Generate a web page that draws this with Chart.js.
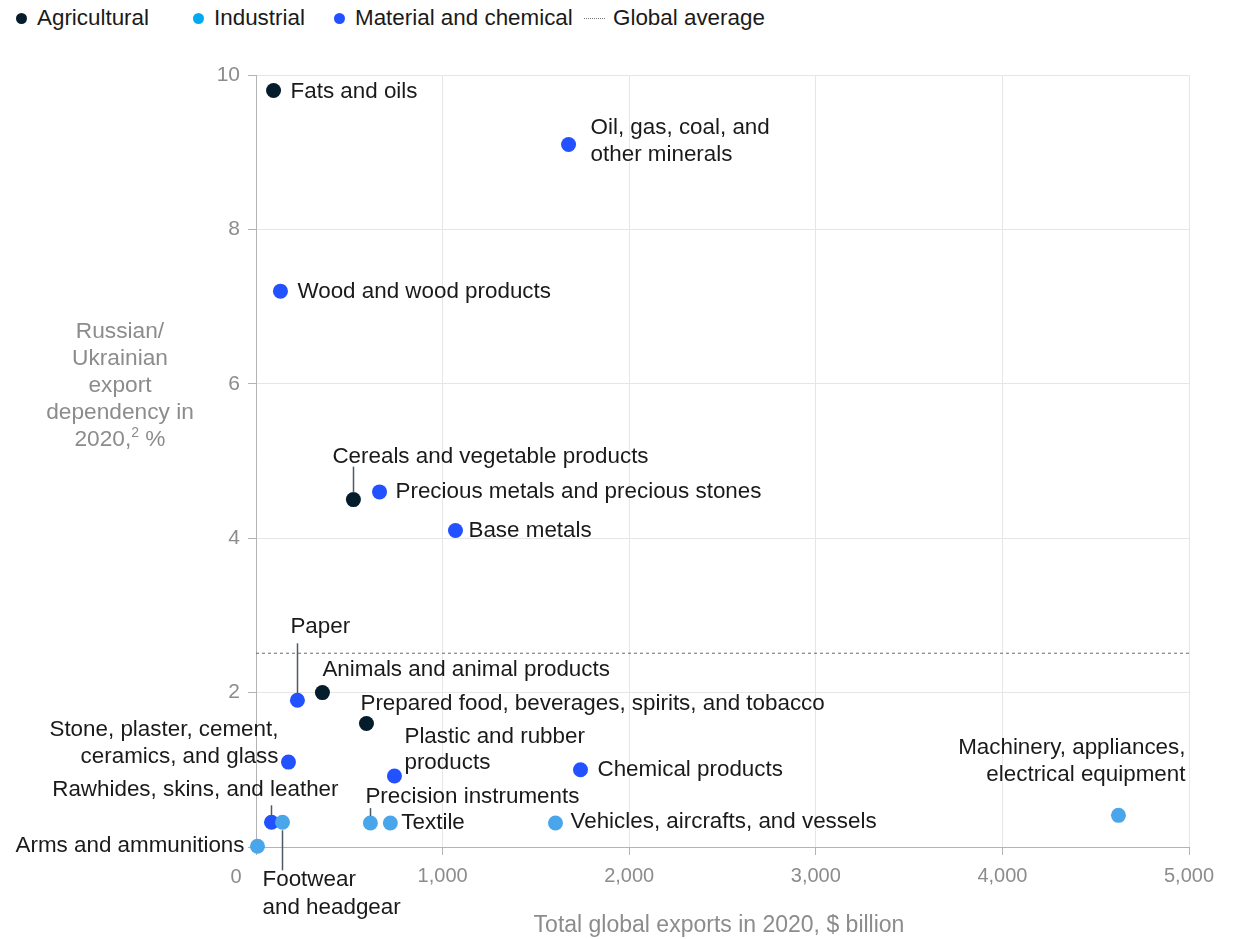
<!DOCTYPE html>
<html>
<head>
<meta charset="utf-8">
<script src="https://cdn.jsdelivr.net/npm/chart.js@4"></script>
<style>
  html, body { margin: 0; padding: 0; background: #fff; }
  body { width: 1238px; height: 939px; position: relative; overflow: hidden; font-family: "Liberation Sans", Arial, sans-serif; }
  #legend { position: absolute; left: 0; top: 0; width: 1238px; height: 36px; font-size: 22.4px; color: #1a1a1a; }
  #legend .item { position: absolute; top: 5px; display: flex; align-items: center; white-space: nowrap; }
  #legend .dot { width: 11px; height: 11px; border-radius: 50%; margin-right: 10px; }
  #legend .dash { width: 21px; border-top: 1px dotted #777; margin-right: 8px; }
  #wrap { position: absolute; left: 0; top: 0; width: 1238px; height: 939px; }
</style>
</head>
<body>
<div id="legend">
  <div class="item" style="left:16px"><span class="dot" style="background:#051c2c"></span>Agricultural</div>
  <div class="item" style="left:193px"><span class="dot" style="background:#00a9f4"></span>Industrial</div>
  <div class="item" style="left:334px"><span class="dot" style="background:#2251ff"></span>Material and chemical</div>
  <div class="item" style="left:584px"><span class="dash"></span>Global average</div>
</div>
<div id="wrap"><canvas id="chart" width="1238" height="939"></canvas></div>
<script>
// Produits exportés : valeur mondiale 2020 ($ mrd) et dépendance Russie/Ukraine (%)
const categories = [
  'Fats and oils', 'Oil, gas, coal, and other minerals', 'Wood and wood products',
  'Cereals and vegetable products', 'Precious metals and precious stones', 'Base metals',
  'Paper', 'Animals and animal products', 'Prepared food, beverages, spirits, and tobacco',
  'Stone, plaster, cement, ceramics, and glass', 'Plastic and rubber products', 'Chemical products',
  'Machinery, appliances, electrical equipment', 'Rawhides, skins, and leather', 'Footwear and headgear',
  'Precision instruments', 'Textile', 'Vehicles, aircrafts, and vessels', 'Arms and ammunitions'
];
const globalExports = [94, 1675, 131, 522, 662, 1069, 222, 356, 592, 174, 742, 1739, 4622, 83, 142, 613, 720, 1605, 8];
const dependency = [9.8, 9.1, 7.2, 4.5, 4.6, 4.1, 1.9, 2.0, 1.6, 1.1, 0.92, 1.0, 0.41, 0.32, 0.32, 0.31, 0.31, 0.31, 0.01];
const sectors = [
  'Agricultural', 'Material and chemical', 'Material and chemical',
  'Agricultural', 'Material and chemical', 'Material and chemical',
  'Material and chemical', 'Agricultural', 'Agricultural',
  'Material and chemical', 'Material and chemical', 'Material and chemical',
  'Industrial', 'Material and chemical', 'Industrial',
  'Industrial', 'Industrial', 'Industrial', 'Industrial'
];
const globalAverage = 2.51;
const xTicks = [0, 1000, 2000, 3000, 4000, 5000];
const yTicks = [0, 2, 4, 6, 8, 10];

const sectorColors = {
  'Agricultural': '#051c2c',
  'Industrial': '#4aa6ea',
  'Material and chemical': '#2251ff'
};

// Placement des étiquettes (décalage en px depuis le point, texte multi-lignes, trait de rappel)
const labelLayout = {
  'Fats and oils': { dx: 17, dy: 1 },
  'Oil, gas, coal, and other minerals': { dx: 22, dy: -17, lines: ['Oil, gas, coal, and', 'other minerals'] },
  'Wood and wood products': { dx: 17, dy: 1 },
  'Cereals and vegetable products': { dx: -21, dy: -43, leader: [-33, -7] },
  'Precious metals and precious stones': { dx: 16, dy: 0 },
  'Base metals': { dx: 13, dy: 0 },
  'Paper': { dx: -7, dy: -73, leader: [-57, -7] },
  'Animals and animal products': { dx: 0, dy: -23 },
  'Prepared food, beverages, spirits, and tobacco': { dx: -6, dy: -20 },
  'Stone, plaster, cement, ceramics, and glass': { dx: -10, dy: -32, align: 'right', lines: ['Stone, plaster, cement,', 'ceramics, and glass'] },
  'Plastic and rubber products': { dx: 10, dy: -39, gap: 26, lines: ['Plastic and rubber', 'products'] },
  'Chemical products': { dx: 17, dy: 0 },
  'Machinery, appliances, electrical equipment': { dx: 67, dy: -68, align: 'right', lines: ['Machinery, appliances,', 'electrical equipment'] },
  'Rawhides, skins, and leather': { dx: 67, dy: -32, align: 'right', leader: [-17, -7] },
  'Footwear and headgear': { dx: -20, dy: 58, gap: 28, lines: ['Footwear', 'and headgear'], leader: [8, 48] },
  'Precision instruments': { dx: -5, dy: -26, leader: [-15, -7] },
  'Textile': { dx: 11, dy: 0 },
  'Vehicles, aircrafts, and vessels': { dx: 15, dy: -1 },
  'Arms and ammunitions': { dx: -13, dy: 0, align: 'right' }
};

const FONT = '"Liberation Sans", Arial, sans-serif';

// Construire les jeux de données par secteur
function buildDatasets() {
  const sets = [];
  Object.keys(sectorColors).forEach(sector => {
    const pts = [];
    categories.forEach((name, i) => {
      if (sectors[i] === sector) pts.push({ x: globalExports[i], y: dependency[i], name: name });
    });
    sets.push({
      type: 'scatter',
      label: sector,
      data: pts,
      backgroundColor: sectorColors[sector],
      borderWidth: 0,
      pointRadius: 7.5,
      pointHoverRadius: 7.5,
      clip: false,
      order: 1
    });
  });
  sets.push({
    type: 'line',
    label: 'Global average',
    data: [{ x: xTicks[0], y: globalAverage }, { x: xTicks[xTicks.length - 1], y: globalAverage }],
    borderColor: '#6b6b6b',
    borderWidth: 1,
    borderDash: [3, 3],
    pointRadius: 0,
    order: 2
  });
  return sets;
}

// Étiquettes des points, traits de rappel et titres des axes
const annotationsPlugin = {
  id: 'annotations',
  afterDatasetsDraw(chart) {
    const ctx = chart.ctx;
    ctx.save();
    ctx.font = '22.4px ' + FONT;
    ctx.textBaseline = 'middle';
    chart.data.datasets.forEach((ds, di) => {
      if (ds.type !== 'scatter') return;
      const meta = chart.getDatasetMeta(di);
      meta.data.forEach((pt, j) => {
        const name = ds.data[j].name;
        const lay = labelLayout[name];
        if (!lay) return;
        if (lay.leader) {
          ctx.strokeStyle = '#4d5a66';
          ctx.lineWidth = 1.5;
          ctx.beginPath();
          ctx.moveTo(Math.round(pt.x) + 0.5, pt.y + lay.leader[0]);
          ctx.lineTo(Math.round(pt.x) + 0.5, pt.y + lay.leader[1]);
          ctx.stroke();
        }
        const lines = lay.lines || [name];
        const gap = lay.gap || 27;
        ctx.fillStyle = '#1a1a1a';
        ctx.textAlign = lay.align || 'left';
        lines.forEach((t, k) => ctx.fillText(t, pt.x + lay.dx, pt.y + lay.dy + k * gap));
      });
    });

    // titre vertical, posé horizontalement à gauche
    ctx.fillStyle = '#8c8c8c';
    ctx.textAlign = 'center';
    ctx.font = '22.7px ' + FONT;
    const yTitle = ['Russian/', 'Ukrainian', 'export', 'dependency in'];
    yTitle.forEach((t, k) => ctx.fillText(t, 120, 332 + k * 27));
    // dernière ligne avec l'exposant de la note
    const base = '2020,';
    const tail = ' %';
    const wBase = ctx.measureText(base).width;
    const wTail = ctx.measureText(tail).width;
    ctx.font = '14px ' + FONT;
    const wSup = ctx.measureText('2').width;
    let x0 = 120 - (wBase + wSup + wTail) / 2;
    ctx.textAlign = 'left';
    ctx.font = '22.7px ' + FONT;
    ctx.fillText(base, x0, 440);
    ctx.font = '14px ' + FONT;
    ctx.fillText('2', x0 + wBase, 433);
    ctx.font = '22.7px ' + FONT;
    ctx.fillText(tail, x0 + wBase + wSup, 440);

    // origine commune "0"
    ctx.textAlign = 'center';
    ctx.font = '20px ' + FONT;
    ctx.fillText('0', chart.scales.x.left - 20, chart.scales.y.bottom + 30);

    // titre de l'axe horizontal
    ctx.font = '23px ' + FONT;
    ctx.fillText('Total global exports in 2020, $ billion', 719, 926);
    ctx.restore();
  }
};

const ctx = document.getElementById('chart').getContext('2d');
const chart = new Chart(ctx, {
  data: { datasets: buildDatasets() },
  plugins: [annotationsPlugin],
  options: {
    responsive: false,
    animation: false,
    events: [],
    layout: { padding: { top: 75, right: 49, left: 0, bottom: 0 } },
    plugins: {
      legend: { display: false },
      tooltip: { enabled: false }
    },
    scales: {
      x: {
        type: 'linear',
        min: xTicks[0],
        max: xTicks[xTicks.length - 1],
        afterBuildTicks: scale => { scale.ticks = xTicks.map(v => ({ value: v })); },
        afterFit: scale => { scale.height = 92; },
        grid: { color: '#e6e6e6', tickColor: '#b3b3b3', tickLength: 8, lineWidth: 1 },
        border: { color: '#b3b3b3' },
        ticks: {
          color: '#8c8c8c',
          padding: 9,
          font: { family: FONT, size: 20 },
          maxRotation: 0,
          callback: v => v === 0 ? '' : v.toLocaleString('en-US')
        }
      },
      y: {
        type: 'linear',
        min: yTicks[0],
        max: yTicks[yTicks.length - 1],
        afterBuildTicks: scale => { scale.ticks = yTicks.map(v => ({ value: v })); },
        afterFit: scale => { scale.width = 256; },
        grid: { color: '#e6e6e6', tickColor: '#b3b3b3', tickLength: 8, lineWidth: 1 },
        border: { color: '#b3b3b3' },
        ticks: {
          color: '#8c8c8c',
          padding: 8,
          font: { family: FONT, size: 21 },
          callback: v => v === 0 ? '' : String(v)
        }
      }
    }
  }
});
</script>
</body>
</html>
